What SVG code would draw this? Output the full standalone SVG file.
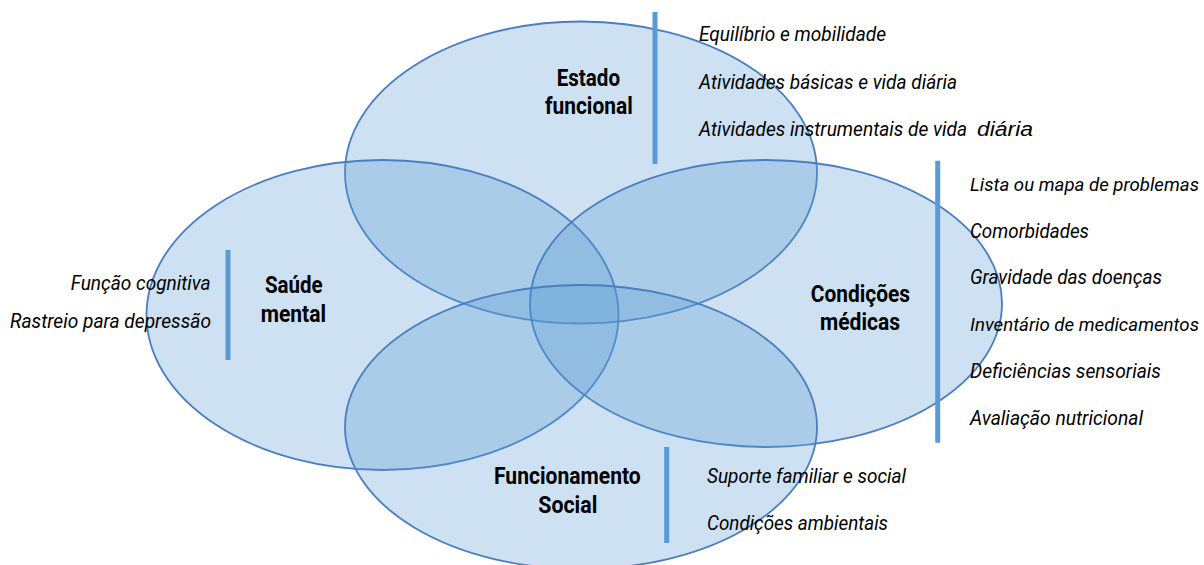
<svg xmlns="http://www.w3.org/2000/svg" width="1204" height="565" viewBox="0 0 1204 565">
<style>
.ell{fill:#5B9BD5;fill-opacity:0.3;stroke:#4A7EC0;stroke-width:1.8}
.bar{stroke:#5B9BD5;stroke-width:5;fill:none}
.title{font-family:Roboto,"Liberation Sans",sans-serif;font-weight:bold;font-size:24.5px;fill:#000}
.item{font-family:Roboto,"Liberation Sans",sans-serif;font-style:italic;font-size:19.5px;fill:#000}
.edge{font-size:17.5px}
.big{font-family:"Liberation Sans",Arial,sans-serif;font-style:italic;font-size:20.5px;fill:#000}
</style>
<rect width="1204" height="565" fill="#ffffff"/>
<g id="estado-funcional">
<ellipse class="ell" cx="581" cy="172.5" rx="236" ry="151"/>
<line class="bar" x1="655" y1="12" x2="655" y2="164"/>
<text class="title" x="556.7" y="85.7" textLength="63.3" lengthAdjust="spacingAndGlyphs">Estado</text>
<text class="title" x="545" y="114.3" textLength="87.7" lengthAdjust="spacingAndGlyphs">funcional</text>
<text class="item" x="699" y="41" textLength="187" lengthAdjust="spacingAndGlyphs">Equilíbrio e mobilidade</text>
<text class="item" x="699" y="88.5" textLength="258" lengthAdjust="spacingAndGlyphs">Atividades básicas e vida diária</text>
<text class="item" x="699" y="136" textLength="268" lengthAdjust="spacingAndGlyphs">Atividades instrumentais de vida</text>
<text class="big" x="977" y="136" textLength="56" lengthAdjust="spacingAndGlyphs">diária</text>
</g>
<g id="saude-mental">
<ellipse class="ell" cx="382.5" cy="315" rx="236" ry="155"/>
<line class="bar" x1="228" y1="250" x2="228" y2="360"/>
<text class="title" x="265" y="292.5" textLength="57.7" lengthAdjust="spacingAndGlyphs">Saúde</text>
<text class="title" x="260.7" y="322" textLength="65.3" lengthAdjust="spacingAndGlyphs">mental</text>
<text class="item" x="70.7" y="290" textLength="140" lengthAdjust="spacingAndGlyphs">Função cognitiva</text>
<text class="item" x="10" y="328.3" textLength="201" lengthAdjust="spacingAndGlyphs">Rastreio para depressão</text>
</g>
<g id="condicoes-medicas">
<ellipse class="ell" cx="766" cy="303.5" rx="236" ry="143.5"/>
<line class="bar" x1="937.7" y1="160.7" x2="937.7" y2="442.7"/>
<text class="title" x="810.7" y="301.7" textLength="99.3" lengthAdjust="spacingAndGlyphs">Condições</text>
<text class="title" x="820" y="330.3" textLength="80" lengthAdjust="spacingAndGlyphs">médicas</text>
<text class="item edge" x="970" y="190.5" textLength="229" lengthAdjust="spacingAndGlyphs">Lista ou mapa de problemas</text>
<text class="item" x="970" y="237.5" textLength="119" lengthAdjust="spacingAndGlyphs">Comorbidades</text>
<text class="item" x="970" y="284" textLength="192" lengthAdjust="spacingAndGlyphs">Gravidade das doenças</text>
<text class="item edge" x="970" y="331" textLength="229" lengthAdjust="spacingAndGlyphs">Inventário de medicamentos</text>
<text class="item" x="970" y="377.5" textLength="191" lengthAdjust="spacingAndGlyphs">Deficiências sensoriais</text>
<text class="item" x="970" y="424.5" textLength="173" lengthAdjust="spacingAndGlyphs">Avaliação nutricional</text>
</g>
<g id="funcionamento-social">
<ellipse class="ell" cx="581" cy="427" rx="236" ry="142"/>
<line class="bar" x1="666.7" y1="447" x2="666.7" y2="543"/>
<text class="title" x="494" y="484.2" textLength="146.7" lengthAdjust="spacingAndGlyphs">Funcionamento</text>
<text class="title" x="538.3" y="513.3" textLength="59" lengthAdjust="spacingAndGlyphs">Social</text>
<text class="item" x="707" y="482.7" textLength="199" lengthAdjust="spacingAndGlyphs">Suporte familiar e social</text>
<text class="item" x="707" y="530" textLength="181" lengthAdjust="spacingAndGlyphs">Condições ambientais</text>
</g>
</svg>
